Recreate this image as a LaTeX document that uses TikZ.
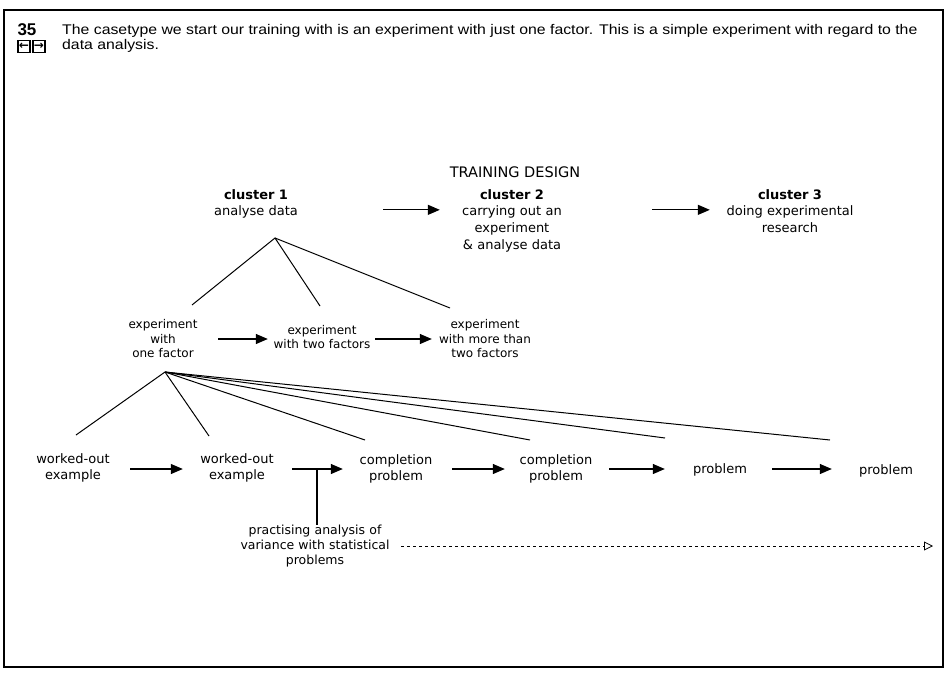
\documentclass[tikz,border=0pt]{standalone}
\usepackage{fontspec}
\setmainfont{DejaVu Sans}
\newfontfamily\arialf[FakeStretch=1.13]{Liberation Sans}
\newfontfamily\arialb{Liberation Sans}
\usetikzlibrary{arrows.meta}
\begin{document}
\begin{tikzpicture}[x=1pt,y=-1pt,
  arr/.style={-{Triangle[length=12pt,width=10pt]}, line width=1.2pt},
  tree/.style={line width=1pt},
  smallt/.style={align=center, inner sep=0pt, font=\fontsize{12}{14.5}\selectfont},
  rowt/.style={align=center, inner sep=0pt, font=\fontsize{13}{15.5}\selectfont},
  clus/.style={align=center, inner sep=0pt, font=\fontsize{13}{16.7}\selectfont},
  dasharr/.style={-{Triangle[open,length=9pt,width=9pt]}, line width=0.8pt, dash pattern=on 3pt off 3pt},
  btn/.style={draw, line width=1.1pt, minimum size=12pt, inner sep=0pt, font=\bfseries\fontsize{12}{12}\selectfont}
]
\useasboundingbox (0,0) rectangle (947,682);
\draw[line width=1.6pt] (4,10) rectangle (943,667);

% header
\node[font=\arialb\bfseries\fontsize{17}{17}\selectfont, inner sep=0pt] (num) at (27,30) {35};
\node[font=\arialf\fontsize{14}{15}\selectfont, anchor=north west, align=left, inner sep=0pt] (hdr) at (62,24)
  {The casetype we start our training with is an experiment with just one factor. This is a simple experiment with regard to the\\data analysis.};
\node[btn] (bl) at (24,46.5) {←};
\node[btn] (br) at (39,46.5) {→};

% title and clusters
\node[font=\fontsize{14.5}{16}\selectfont, inner sep=0pt] (title) at (515,172) {TRAINING DESIGN};
\node[clus, anchor=north, text width=120pt] (c1) at (256,189) {\textbf{cluster 1}\\analyse data};
\node[clus, anchor=north, text width=120pt] (c2) at (512,189) {\textbf{cluster 2}\\carrying out an\\experiment\\\& analyse data};
\node[clus, anchor=north, text width=140pt] (c3) at (790,189) {\textbf{cluster 3}\\doing experimental\\research};
\coordinate (r1) at ([yshift=-6pt]c1.east);
\coordinate (r2) at (r1 -| c2.east);
\draw[arr, shorten <=67pt, shorten >=12pt] (r1) -- (r1 -| c2.west);
\draw[arr, shorten <=80pt, shorten >=10pt] (r2) -- (r2 -| c3.west);

% tree 1
\coordinate (t1) at (275,238);
\coordinate (t1a) at (192,305);
\coordinate (t1b) at (320,306);
\coordinate (t1c) at (450,308);
\draw[tree] (t1a) -- (t1) -- (t1b);
\draw[tree] (t1) -- (t1c);

% row 2
\node[smallt, text width=104pt] (e1) at (163,339) {experiment\\with\\one factor};
\node[smallt, text width=104pt] (e2) at (322,337) {experiment\\with two factors};
\node[smallt, text width=104pt] (e3) at (485,339) {experiment\\with more than\\two factors};
\draw[arr, shorten <=3pt, shorten >=2pt] (e1.east) -- (e1.east -| e2.west);
\draw[arr, shorten <=1pt, shorten >=1pt] (e1.east -| e2.east) -- (e1.east -| e3.west);

% tree 2
\coordinate (t2) at (165,372);
\coordinate (t2a) at (76,435);
\coordinate (t2b) at (209,436);
\coordinate (t2c) at (365,440);
\coordinate (t2d) at (530,440);
\coordinate (t2e) at (665,438);
\coordinate (t2f) at (830,440);
\foreach \e in {t2a,t2b,t2c,t2d,t2e,t2f} \draw[tree] (t2) -- (\e);

% row 3
\node[rowt, text width=80pt] (w1) at (73,468) {worked-out\\example};
\node[rowt, text width=80pt] (w2) at (237,468) {worked-out\\example};
\node[rowt, text width=80pt] (p1) at (396,469) {completion\\problem};
\node[rowt, text width=80pt] (p2) at (556,469) {completion\\problem};
\node[rowt, text width=80pt] (q1) at (720,470) {problem};
\node[rowt, text width=80pt] (q2) at (886,471) {problem};
\coordinate (row) at (0,469);
\draw[arr, shorten <=17pt, shorten >=14pt] (row -| w1.east) -- (row -| w2.west);
\draw[arr, shorten <=15pt, shorten >=13pt] (row -| w2.east) -- (row -| p1.west);
\draw[arr, shorten <=16pt, shorten >=11pt] (row -| p1.east) -- (row -| p2.west);
\draw[arr, shorten <=13pt, shorten >=15pt] (row -| p2.east) -- (row -| q1.west);
\draw[arr, shorten <=12pt, shorten >=14pt] (row -| q1.east) -- (row -| q2.west);

% practising
\node[rowt, text width=160pt, font=\fontsize{12.5}{15}\selectfont] (pr) at (315,546) {practising analysis of\\variance with statistical\\problems};
\coordinate (j) at (317,469);
\draw[line width=1.2pt] (j) -- (j |- pr.north);
\coordinate (de) at (933,545);
\draw[dasharr, shorten <=6pt] (pr.east) -- (pr.east -| de);
\end{tikzpicture}
\end{document}
